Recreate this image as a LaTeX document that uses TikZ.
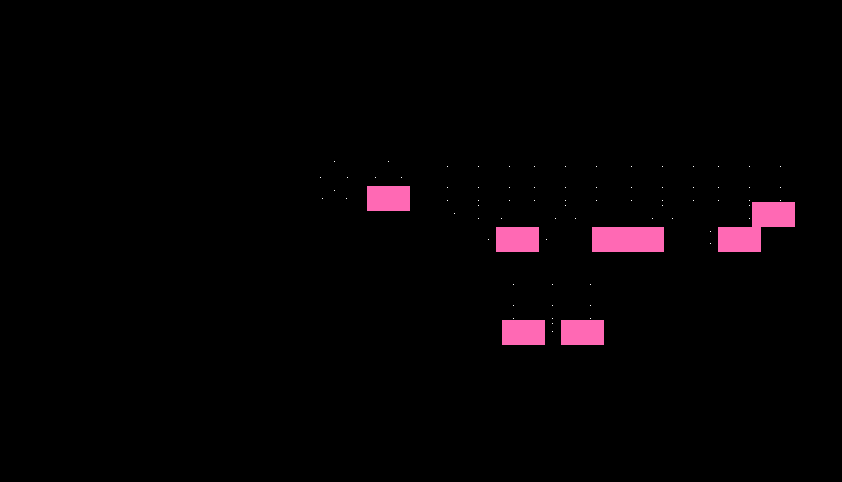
\documentclass[tikz,border=0pt]{standalone}
\usetikzlibrary{positioning}
\definecolor{blockpink}{HTML}{FF69B4}
\tikzstyle{block} = [rectangle, anchor=north west, inner sep=0pt, minimum width=1.29cm, minimum height=0.75cm, fill=blockpink]
\tikzstyle{speck} = [fill=white]
\begin{document}
\begin{tikzpicture}[x=0.03cm, y=-0.03cm]
                \fill[black] (0,0) rectangle (842,482);
                \useasboundingbox (0,0) rectangle (842,482);
                % pink blocks
                \node (top) [block] at (367,186) {};
                \node (midA) [block] at (496,227) {};
                \node (midB) [block, minimum width=2.16cm] at (592,227) {};
                \node (midC) [block] at (718,227) {};
                \node (side) [block] at (752,202) {};
                \node (lowA) [block] at (502,320) {};
                \node (lowB) [block, right=0.45cm of lowA] {};
                % specks
                \foreach \x in {447,478,509,534,565,596,631,662,693,718,749,780}
                    \foreach \y in {166,187,200}
                        \fill[speck] (\x,\y) rectangle +(1,1);
                \foreach \x/\y in {334/161,388/161,320/177,347/177,375/177,401/177,334/190,322/198,346/198,
                    478/205,565/205,662/205,749/205,454/213,
                    478/218,501/218,555/218,575/218,652/218,672/218,749/218,
                    710/231,710/243,488/239,546/239,
                    513/284,552/284,590/284,513/305,552/305,590/305,513/318,552/318,590/318,552/323,552/331}
                    \fill[speck] (\x,\y) rectangle +(1,1);
            \end{tikzpicture}
\end{document}
